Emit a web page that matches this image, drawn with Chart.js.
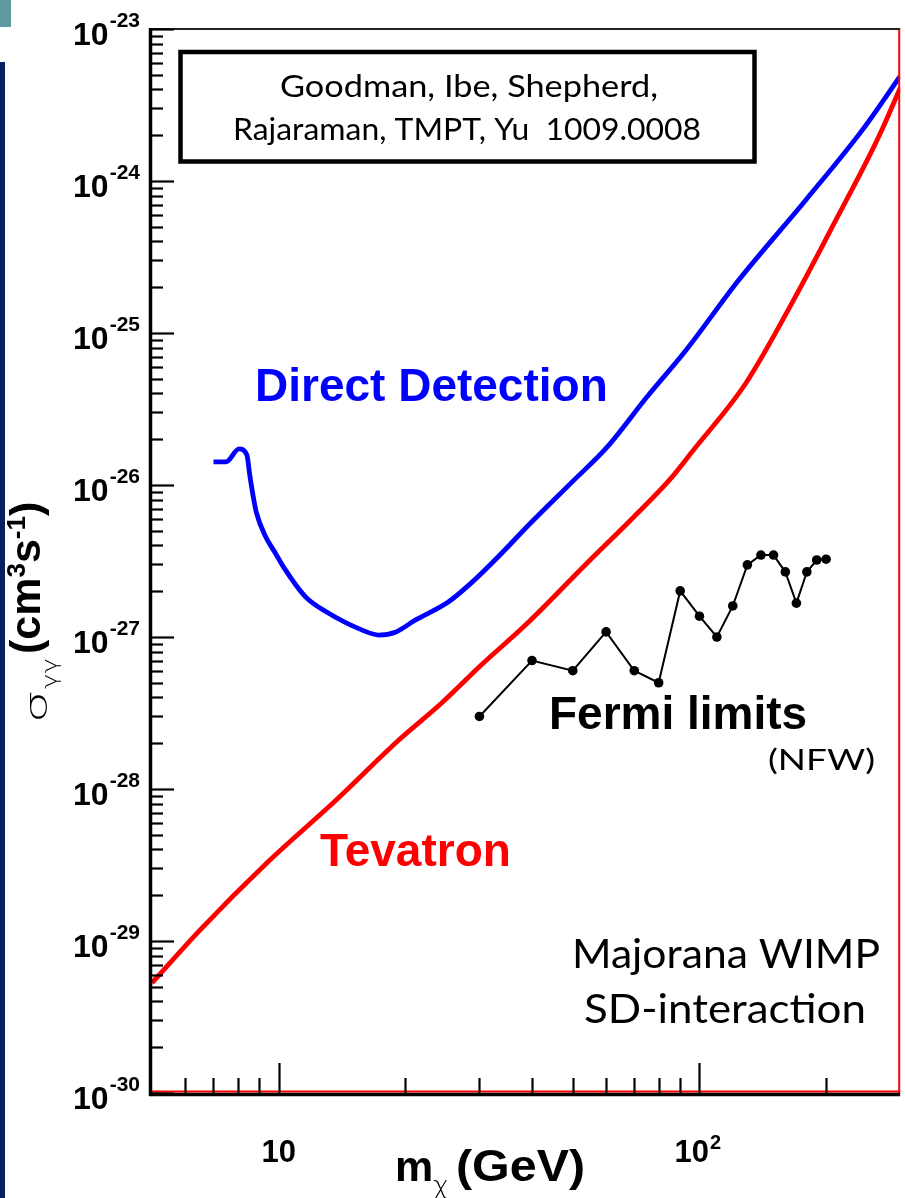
<!DOCTYPE html>
<html><head><meta charset="utf-8">
<script src="https://cdn.jsdelivr.net/npm/chart.js@4.4.0/dist/chart.umd.min.js"></script>
<style>html,body{margin:0;padding:0;background:#fff;}canvas{display:block}</style>
</head><body>
<canvas id="c" width="905" height="1198"></canvas>
<script>
// ---- data ----
const ddMass  = [7.0, 7.5, 8.05, 8.4, 8.55, 8.7, 8.85, 9.3, 9.8, 10.3, 11.6, 13.0, 15.8, 17.3, 19.0, 21.1, 25.3, 28.7, 33.2, 39.7, 50.4, 60.4, 75, 93, 124, 179, 244, 300];
const ddSigma = [1.42e-26, 1.42e-26, 1.73e-26, 1.58e-26, 1.13e-26, 8.4e-27, 6.6e-27, 4.6e-27, 3.6e-27, 2.85e-27, 1.83e-27, 1.46e-27, 1.11e-27, 1.03e-27, 1.08e-27, 1.29e-27, 1.70e-27, 2.27e-27, 3.36e-27, 5.62e-27, 1.08e-26, 1.78e-26, 3.79e-26, 7.73e-26, 2.23e-25, 7.5e-25, 2.17e-24, 4.9e-24];
const tevMass  = [5.0, 6.5, 9.37, 13.7, 19.3, 24.4, 30.3, 39.1, 54.1, 69.8, 84.9, 96.8, 129, 169, 210, 248, 272, 300];
const tevSigma = [5.3e-30, 1.18e-29, 3.26e-29, 8.47e-29, 2.1e-28, 3.68e-28, 6.54e-28, 1.24e-27, 3.07e-27, 6.16e-27, 1.08e-26, 1.70e-26, 4.69e-26, 1.73e-25, 5.4e-25, 1.3e-24, 2.2e-24, 4.1e-24];
const fermiMass  = [30, 40, 50, 60, 70, 80, 90, 100, 110, 120, 130, 140, 150, 160, 170, 180, 190, 200];
const fermiSigma = [3.0e-28, 7.0e-28, 6.0e-28, 1.08e-27, 6.0e-28, 5.0e-28, 2.01e-27, 1.37e-27, 1.0e-27, 1.6e-27, 2.98e-27, 3.46e-27, 3.46e-27, 2.68e-27, 1.67e-27, 2.68e-27, 3.21e-27, 3.25e-27];

const yDecadeExponents = [-23, -24, -25, -26, -27, -28, -29, -30];
const xMajorTicks = [10, 100];
const xMajorLabels = [['10', ''], ['10', '2']];
const xMinorTicks = [6, 7, 8, 9, 20, 30, 40, 50, 60, 70, 80, 90, 200];
const boxLines = ['Goodman, Ibe, Shepherd,', 'Rajaraman, TMPT, Yu  1009.0008'];
const xMin = 5, xMax = 300, yMin = 1e-30, yMax = 1e-23;

const pts = (xs, ys) => xs.map((x, i) => ({x, y: ys[i]}));

const BOLD = '"Liberation Sans", Arial, Helvetica, sans-serif';
const GILL = 'Lato, "Open Sans", sans-serif';
const THIN = '"DejaVu Sans ExtraLight", "DejaVu Sans", sans-serif';

function txt(ctx, s, x, y, font, color, align, fitW) {
  ctx.font = font; ctx.fillStyle = color;
  ctx.textAlign = 'left'; ctx.textBaseline = 'alphabetic';
  const w = ctx.measureText(s).width;
  ctx.save(); ctx.translate(x, y);
  if (fitW) ctx.scale(fitW / w, 1);
  const ox = align === 'center' ? -w / 2 : align === 'right' ? -w : 0;
  ctx.fillText(s, ox, 0);
  ctx.restore();
  return fitW || w;
}

const decor = {
  id: 'decor',
  beforeDraw(chart) {
    const ctx = chart.ctx;
    ctx.save();
    ctx.fillStyle = '#ffffff'; ctx.fillRect(0, 0, chart.width, chart.height);
    ctx.fillStyle = '#5c9a9f'; ctx.fillRect(0, 0, 11, 27);
    ctx.fillStyle = '#0b1f5c'; ctx.fillRect(0, 62, 5, chart.height - 62);
    ctx.restore();
  },
  afterDatasetsDraw(chart) {
    const ctx = chart.ctx, xs = chart.scales.x, ys = chart.scales.y;
    const L = xs.getPixelForValue(xMin), R = xs.getPixelForValue(xMax);
    const T = ys.getPixelForValue(yMax), B = ys.getPixelForValue(yMin);
    ctx.save();
    // frame
    ctx.lineCap = 'butt';
    ctx.strokeStyle = '#222'; ctx.lineWidth = 2;
    ctx.beginPath(); ctx.moveTo(L, T); ctx.lineTo(R, T); ctx.stroke();
    ctx.strokeStyle = '#ff0000'; ctx.lineWidth = 2;
    ctx.beginPath(); ctx.moveTo(R - 1, T + 1); ctx.lineTo(R - 1, B); ctx.stroke();
    ctx.beginPath(); ctx.moveTo(L, B - 1.5); ctx.lineTo(R, B - 1.5); ctx.stroke();
    ctx.strokeStyle = '#000'; ctx.lineWidth = 3.5;
    ctx.beginPath(); ctx.moveTo(L - 1.5, T - 1); ctx.lineTo(L - 1.5, B + 3); ctx.stroke();
    ctx.beginPath(); ctx.moveTo(L - 3, B + 1.5); ctx.lineTo(R, B + 1.5); ctx.stroke();

    // y ticks
    ctx.lineWidth = 2.2;
    yDecadeExponents.forEach(e => {
      const v = Number('1e' + e);
      const p = Math.round(ys.getPixelForValue(v)) + 0.5;
      ctx.beginPath(); ctx.moveTo(L, p); ctx.lineTo(L + 22, p); ctx.stroke();
      if (e > -30) {
        for (let k = 2; k <= 9; k++) {
          const q = Math.round(ys.getPixelForValue(Number(k + 'e' + (e - 1)))) + 0.5;
          ctx.beginPath(); ctx.moveTo(L, q); ctx.lineTo(L + 11, q); ctx.stroke();
        }
      }
    });
    // x ticks
    xMajorTicks.forEach(v => {
      const p = Math.round(xs.getPixelForValue(v)) + 0.5;
      ctx.beginPath(); ctx.moveTo(p, B); ctx.lineTo(p, B - 30); ctx.stroke();
    });
    xMinorTicks.forEach(v => {
      const p = Math.round(xs.getPixelForValue(v)) + 0.5;
      ctx.beginPath(); ctx.moveTo(p, B); ctx.lineTo(p, B - 15); ctx.stroke();
    });

    // y tick labels
    yDecadeExponents.forEach(e => {
      const p = ys.getPixelForValue(Number('1e' + e));
      const sup = String(e);
      ctx.font = 'bold 21px ' + BOLD;
      const sw = ctx.measureText(sup).width;
      txt(ctx, sup, 140, p - 2, 'bold 21px ' + BOLD, '#000', 'right');
      txt(ctx, '10', 140 - sw - 1, p + 16, 'bold 32px ' + BOLD, '#000', 'right');
    });
    // x tick labels
    xMajorTicks.forEach((v, i) => {
      const p = xs.getPixelForValue(v);
      const [base, sup] = xMajorLabels[i];
      if (!sup) {
        txt(ctx, base, p, 1162, 'bold 31px ' + BOLD, '#000', 'center');
      } else {
        const bw = txt(ctx, base, p - 25, 1162, 'bold 31px ' + BOLD, '#000', 'left');
        txt(ctx, sup, p - 25 + bw + 1, 1149, 'bold 20px ' + BOLD, '#000', 'left');
      }
    });

    // x title
    txt(ctx, 'm', 395, 1181, 'bold 43px ' + BOLD, '#000', 'left');
    txt(ctx, 'χ', 433, 1194, '300 24px ' + THIN, '#000', 'left', 16);
    txt(ctx, '(GeV)', 456, 1181, 'bold 44px ' + BOLD, '#000', 'left', 129);

    // y title (rotated)
    ctx.save();
    ctx.translate(0, 723);
    ctx.rotate(-Math.PI / 2);
    let a = 0;
    a += txt(ctx, 'σ', a, 47, '200 31px ' + THIN, '#000', 'left', 33);
    a += txt(ctx, 'γγ', a + 1, 57, '200 22px ' + THIN, '#000', 'left', 31) + 1;
    a += 4;
    a += txt(ctx, '(cm', a, 40, 'bold 43px ' + BOLD, '#000', 'left');
    a += txt(ctx, '3', a, 25, 'bold 26px ' + BOLD, '#000', 'left');
    a += txt(ctx, 's', a, 40, 'bold 43px ' + BOLD, '#000', 'left');
    a += txt(ctx, '-1', a, 25, 'bold 26px ' + BOLD, '#000', 'left');
    txt(ctx, ')', a, 40, 'bold 43px ' + BOLD, '#000', 'left');
    ctx.restore();

    // reference box
    ctx.strokeStyle = '#000'; ctx.lineWidth = 4.5;
    ctx.strokeRect(180.5, 52, 574, 109.5);
    txt(ctx, boxLines[0], 469, 97, '31px ' + GILL, '#000', 'center', 378);
    txt(ctx, boxLines[1], 467, 140, '31px ' + GILL, '#000', 'center', 468);

    // curve labels
    txt(ctx, 'Direct Detection', 255, 401, 'bold 46px ' + BOLD, '#0000ff', 'left');
    txt(ctx, 'Fermi limits', 549, 729, 'bold 46px ' + BOLD, '#000', 'left');
    txt(ctx, '(NFW)', 768, 770, '29px ' + GILL, '#000', 'left', 107);
    txt(ctx, 'Tevatron', 320, 866, 'bold 46px ' + BOLD, '#ff0000', 'left');
    txt(ctx, 'Majorana WIMP', 572, 968, '41px ' + GILL, '#000', 'left', 308);
    txt(ctx, 'SD-interaction', 584, 1023, '41px ' + GILL, '#000', 'left', 282);
    ctx.restore();
  }
};

new Chart(document.getElementById('c'), {
  type: 'line',
  data: {
    datasets: [
      { label: 'Direct Detection', data: pts(ddMass, ddSigma), borderColor: '#0000ff', borderWidth: 4.8,
        pointRadius: 0, cubicInterpolationMode: 'monotone', fill: false },
      { label: 'Tevatron', data: pts(tevMass, tevSigma), borderColor: '#ff0000', borderWidth: 4.8,
        pointRadius: 0, cubicInterpolationMode: 'monotone', fill: false },
      { label: 'Fermi limits (NFW)', data: pts(fermiMass, fermiSigma), borderColor: '#000', borderWidth: 2,
        pointRadius: 4.8, pointBackgroundColor: '#000', pointBorderColor: '#000', pointBorderWidth: 0,
        tension: 0, fill: false }
    ]
  },
  options: {
    responsive: false, animation: false, devicePixelRatio: 1,
    layout: { padding: { left: 152, right: 1, top: 29, bottom: 105 } },
    plugins: { legend: { display: false }, tooltip: { enabled: false }, title: { display: false } },
    scales: {
      x: { type: 'logarithmic', min: xMin, max: xMax, display: false },
      y: { type: 'logarithmic', min: yMin, max: yMax, display: false }
    }
  },
  plugins: [decor]
});
</script>
</body></html>
